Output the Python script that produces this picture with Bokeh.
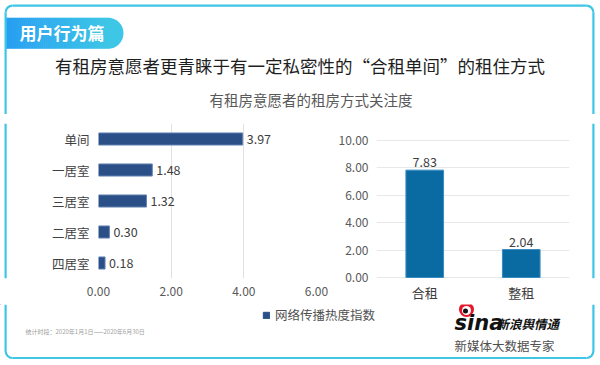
import math
from bokeh.plotting import figure
from bokeh.layouts import column, row
from bokeh.models import (ColumnDataSource, FactorRange, Range1d, Legend, LegendItem,
                          FixedTicker, NumeralTickFormatter)
from bokeh.embed import file_html
from bokeh.resources import INLINE
from bokeh.core.properties import value

# ---------------- data ----------------
room_types = ["单间", "一居室", "三居室", "二居室", "四居室"]
room_values = [3.97, 1.48, 1.32, 0.30, 0.18]
rent_modes = ["合租", "整租"]
rent_values = [7.83, 2.04]
left_ticks = [0, 2, 4, 6]
right_ticks = [0, 2, 4, 6, 8, 10]

section_label = "用户行为篇"
main_title = "有租房意愿者更青睐于有一定私密性的“合租单间”的租住方式"
sub_title = "有租房意愿者的租房方式关注度"
legend_label = "网络传播热度指数"
period_note = "统计时段：2020年1月1日——2020年6月30日"
brand_cn = "新浪舆情通"
brand_tag = "新媒体大数据专家"

FONT = "Noto Sans CJK SC"
LEFT_BAR = "#2b4f87"
RIGHT_BAR = "#0a6aa2"
BORDER = "#3ec6e6"

# layout in picture pixel coordinates
X0, Y0, X1, Y1 = 1, 1, 599, 364
HEAD_B = 115
ROW_B = 305
SPLIT = 335
SL, SR = 9, 591          # side strips
BL, BR, BTOP, BBOT = 5.0, 595.0, 5.0, 359.6   # outer edges of the frame border
BW = 2.2
RAD = 8.0


def canvas(x0, y0, x1, y1):
    p = figure(width=x1 - x0, height=y1 - y0, x_range=Range1d(x0, x1), y_range=Range1d(y1, y0),
               output_backend="svg", toolbar_location=None, min_border=0,
               x_axis_location=None, y_axis_location=None)
    p.grid.visible = False
    p.outline_line_color = None
    p.background_fill_color = "white"
    p.border_fill_color = "white"
    return p


def txt(p, x, y, s, size, color, align="left", style="normal", font=FONT):
    p.text(x=[x], y=[y], text=[s], text_font=value(font), text_font_size=size,
           text_color=color, text_align=align, text_baseline="middle", text_font_style=style)


def side_lines(p, y0, y1):
    p.quad(left=[BL, BR - BW], right=[BL + BW, BR], top=[y0, y0], bottom=[y1, y1],
           fill_color=BORDER, line_color=None)


# ---------------- header ----------------
header = canvas(X0, Y0, X1, HEAD_B)
c0 = (0x27, 0x9f, 0xf2)
c1 = (0x3e, 0xc6, 0xe6)
n = 52
xs0 = 6.0
xs1 = 109.0
step = (xs1 - xs0) / n
lefts, rights, cols = [], [], []
for i in range(n):
    t = i / (n - 1)
    col = "#%02x%02x%02x" % tuple(int(round(a + (b - a) * t)) for a, b in zip(c0, c1))
    lefts.append(xs0 + i * step)
    rights.append(xs0 + (i + 1) * step + 0.6)
    cols.append(col)
header.quad(left=lefts, right=rights, top=[18.3] * n, bottom=[49.3] * n,
            fill_color=cols, line_color=None)
header.wedge(x=[108.5], y=[33.8], radius=15.5, start_angle=-math.pi / 2, end_angle=math.pi / 2,
             fill_color="#3ec6e6", line_color=None)
# frame border: top edge + rounded corners + sides
header.quad(left=[BL + RAD], right=[BR - RAD], top=[BTOP], bottom=[BTOP + BW],
            fill_color=BORDER, line_color=None)
cx_l, cx_r, cy_t = BL + RAD, BR - RAD, BTOP + RAD
header.arc(x=[cx_l], y=[cy_t], radius=RAD - BW / 2, start_angle=math.pi / 2, end_angle=math.pi,
           line_color=BORDER, line_width=BW)
header.arc(x=[cx_r], y=[cy_t], radius=RAD - BW / 2, start_angle=0, end_angle=math.pi / 2,
           line_color=BORDER, line_width=BW)
side_lines(header, cy_t, HEAD_B)
txt(header, 20, 33, section_label, "17px", "white", style="bold")
txt(header, 300.5, 66, main_title, "17.5px", "#1e1e1e", align="center")
txt(header, 311.5, 99.5, sub_title, "14.5px", "#595959", align="center")

# side strips carrying the frame border
strip_l = canvas(X0, HEAD_B, SL, ROW_B)
side_lines(strip_l, HEAD_B, ROW_B)
strip_r = canvas(SR, HEAD_B, X1, ROW_B)
side_lines(strip_r, HEAD_B, ROW_B)

# both chart frames span y 124..280 (frames are aligned inside a row)
FT, FB = 124, 280
BT = FT - HEAD_B
BB = ROW_B - FB

# ---------------- left chart ----------------
left = figure(width=SPLIT - SL, height=ROW_B - HEAD_B,
              y_range=FactorRange(factors=room_types[::-1], range_padding=0),
              x_range=Range1d(0, 6), output_backend="svg", toolbar_location=None,
              min_border_left=99 - SL, min_border_right=SPLIT - 317,
              min_border_top=BT, min_border_bottom=BB)
lsrc = ColumnDataSource(dict(cat=room_types, val=room_values,
                             lab=["%.2f" % v for v in room_values]))
left.hbar(y="cat", right="val", left=0, height=0.39, source=lsrc,
          fill_color=LEFT_BAR, line_color="#6283b5", line_width=1)
left.text(x="val", y="cat", text="lab", source=lsrc, x_offset=4, text_baseline="middle",
          text_align="left", text_font=value(FONT), text_font_size="12.5px", text_color="#404040")
left.xaxis.ticker = FixedTicker(ticks=left_ticks)
left.xaxis.formatter = NumeralTickFormatter(format="0.00")
left.xgrid.ticker = FixedTicker(ticks=left_ticks)
left.xgrid.grid_line_color = "#e2e2e2"
left.ygrid.grid_line_color = None
left.xaxis.major_label_standoff = 8
left.yaxis.major_label_standoff = 9
for ax in (left.xaxis, left.yaxis):
    ax.axis_line_color = None
    ax.major_tick_line_color = None
    ax.minor_tick_line_color = None
    ax.major_tick_out = 0
    ax.major_tick_in = 0
    ax.major_label_text_font = FONT
left.xaxis.major_label_text_font_size = "12px"
left.xaxis.major_label_text_color = "#595959"
left.yaxis.major_label_text_font_size = "12.5px"
left.yaxis.major_label_text_color = "#404040"
left.outline_line_color = None

# ---------------- right chart ----------------
# value 0 sits at y 279 and value 10 at y 141
ppu = (279 - 141) / 10.0
right = figure(width=SR - SPLIT, height=ROW_B - HEAD_B,
               x_range=FactorRange(factors=rent_modes, range_padding=0),
               y_range=Range1d(-(FB - 279) / ppu, (279 - FT) / ppu),
               output_backend="svg", toolbar_location=None,
               min_border_left=377 - SPLIT, min_border_right=SR - 570,
               min_border_top=BT, min_border_bottom=BB)
rsrc = ColumnDataSource(dict(cat=rent_modes, val=rent_values,
                             lab=["%.2f" % v for v in rent_values]))
right.vbar(x="cat", top="val", bottom=0, width=0.39, source=rsrc,
           fill_color=RIGHT_BAR, line_color="#3a8cc0", line_width=1)
right.text(x="cat", y="val", text="lab", source=rsrc, y_offset=-3, text_baseline="bottom",
           text_align="center", text_font=value(FONT), text_font_size="12.5px", text_color="#404040")
right.yaxis.ticker = FixedTicker(ticks=right_ticks)
right.yaxis.formatter = NumeralTickFormatter(format="0.00")
right.ygrid.ticker = FixedTicker(ticks=right_ticks)
right.ygrid.grid_line_color = "#e8e8e8"
right.xgrid.grid_line_color = None
right.xaxis.major_label_standoff = 4
right.yaxis.major_label_standoff = 8
for ax in (right.xaxis, right.yaxis):
    ax.axis_line_color = None
    ax.major_tick_line_color = None
    ax.minor_tick_line_color = None
    ax.major_tick_out = 0
    ax.major_tick_in = 0
    ax.major_label_text_font = FONT
right.yaxis.major_label_text_font_size = "12px"
right.yaxis.major_label_text_color = "#595959"
right.xaxis.major_label_text_font_size = "13px"
right.xaxis.major_label_text_color = "#404040"
right.outline_line_color = None

# ---------------- footer ----------------
footer = canvas(X0, ROW_B, X1, Y1)
cy_b = BBOT - RAD
side_lines(footer, ROW_B, cy_b)
footer.quad(left=[BL + RAD], right=[BR - RAD], top=[BBOT - BW], bottom=[BBOT],
            fill_color=BORDER, line_color=None)
footer.arc(x=[cx_l], y=[cy_b], radius=RAD - BW / 2, start_angle=math.pi, end_angle=1.5 * math.pi,
           line_color=BORDER, line_width=BW)
footer.arc(x=[cx_r], y=[cy_b], radius=RAD - BW / 2, start_angle=1.5 * math.pi, end_angle=2 * math.pi,
           line_color=BORDER, line_width=BW)
dummy = footer.hbar(y=[-500], right=[1], left=[0], height=1, fill_color=LEFT_BAR, line_color=LEFT_BAR)
legend = Legend(items=[LegendItem(label=legend_label, renderers=[dummy])],
                location=(263 - X0, 39),
                glyph_width=8, glyph_height=8, label_height=14, label_standoff=5,
                padding=0, margin=0, border_line_color=None, background_fill_alpha=0,
                label_text_font=FONT, label_text_font_size="12.5px", label_text_color="#505050")
footer.add_layout(legend)
txt(footer, 26, 331.5, period_note, "6px", "#a0a0a0")
# brand mark
footer.scatter(x=[467], y=[310], size=15, marker="circle", fill_color="#e5162b", line_color=None)
footer.scatter(x=[467], y=[311], size=9, marker="circle", fill_color="white", line_color=None)
footer.scatter(x=[466], y=[311.5], size=5, marker="circle", fill_color="#111111", line_color=None)
txt(footer, 455, 323.5, "sina", "21px", "#111111", style="bold italic", font="DejaVu Sans")
txt(footer, 497, 323.5, brand_cn, "12.5px", "#111111", style="bold italic")
txt(footer, 455, 346, brand_tag, "12.5px", "#505050")

root = column(header, row(strip_l, left, right, strip_r), footer)

open("out.html", "w").write(file_html(root, INLINE))
